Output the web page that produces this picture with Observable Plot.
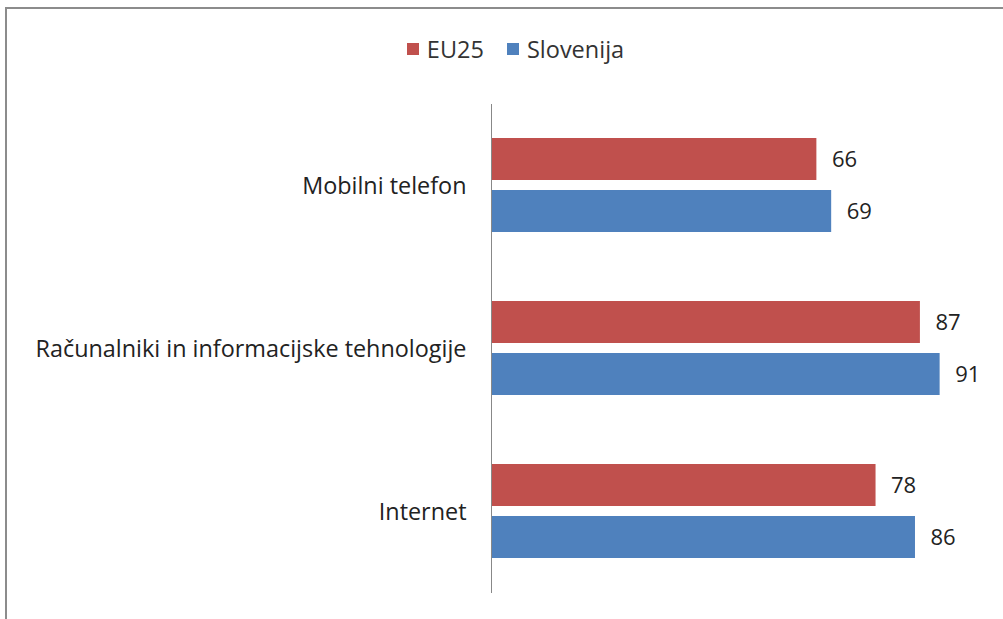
<!DOCTYPE html>
<html>
<head>
<meta charset="utf-8">
<script src="https://cdn.jsdelivr.net/npm/d3@7"></script>
<script src="https://cdn.jsdelivr.net/npm/@observablehq/plot@0.6"></script>
<style>
  html, body { margin: 0; padding: 0; background: #ffffff; }
  body { width: 1003px; height: 619px; position: relative; overflow: hidden; font-family: "Open Sans", sans-serif; }
  #frame { position: absolute; left: 5px; top: 7px; width: 1010px; height: 620px; border-left: 2px solid #8c8c8c; border-top: 2px solid #8c8c8c; box-sizing: border-box; }
  #legend { position: absolute; top: 33px; left: 0; width: 1003px; display: flex; justify-content: center; gap: 23px; font-size: 23.5px; color: #333; padding-left: 28px; box-sizing: border-box; }
  .item { display: flex; align-items: center; gap: 8px; }
  .sw { width: 12px; height: 12px; display: inline-block; }
  #chart { position: absolute; left: 0; top: 0; }
</style>
</head>
<body>
<div id="frame"></div>
<div id="chart"></div>
<div id="legend"></div>
<script>
const categories = ["Mobilni telefon", "Računalniki in informacijske tehnologije", "Internet"];
const series = ["EU25", "Slovenija"];
const eu25 = [66, 87, 78];
const slovenija = [69, 91, 86];
const colors = ["#C0504D", "#4F81BD"];

const data = [];
categories.forEach((c, i) => {
  data.push({category: c, series: series[0], value: eu25[i]});
  data.push({category: c, series: series[1], value: slovenija[i]});
});

const legend = document.getElementById("legend");
series.forEach((s, i) => {
  const it = document.createElement("div");
  it.className = "item";
  it.innerHTML = `<span class="sw" style="background:${colors[i]}"></span><span>${s}</span>`;
  legend.appendChild(it);
});

const chart = Plot.plot({
  width: 1003,
  height: 619,
  marginLeft: 491,
  marginRight: 19,
  marginTop: 103,
  marginBottom: 25,
  style: {fontFamily: "'Open Sans', sans-serif", fontSize: "23.4px", background: "transparent"},
  x: {domain: [0, 100], axis: null},
  y: {domain: series, axis: null, paddingInner: 0.19, paddingOuter: 0.64},
  fy: {domain: categories, padding: 0, label: null, tickSize: 0, tickPadding: 25, axis: "left"},
  color: {domain: series, range: colors},
  marks: [
    Plot.barX(data, {fy: "category", y: "series", x: "value", fill: "series"}),
    Plot.text(data, {fy: "category", y: "series", x: "value", text: d => String(d.value), dx: 15, textAnchor: "start", fill: "#222", fontSize: 22}),
    Plot.ruleX([0], {stroke: "#888", strokeWidth: 1})
  ]
});
chart.querySelectorAll("[aria-label='fy-axis tick label'] text").forEach(t => { t.setAttribute("fill", "#222"); });
document.getElementById("chart").appendChild(chart);
</script>
</body>
</html>
